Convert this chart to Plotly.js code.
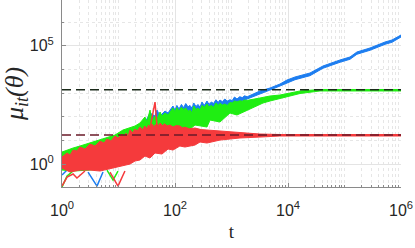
<!DOCTYPE html>
<html><head><meta charset="utf-8">
<script src="https://cdn.plot.ly/plotly-3.0.1.min.js"></script>
<style>html,body{margin:0;padding:0;background:#fff}#chart{width:415px;height:248px}</style>
</head><body><div id="chart"></div>
<script>
// ---- data (t, mu) ----
const redUpperT = [1,1.23,1.39,1.57,1.84,2.08,2.55,3.13,3.84,4.7,5.54,6.26,7.36,8.67,9.8,11.5,12.5,13.6,14.8,16.0,17.8,19.6,21.5,24.0,26.5,29.4,31.9,34,36.1,39.2,42,48.0,51,54.3,60,66.5,72,81.7,92.2,105,122,135,150,180,226,290,368,625,1413,3190,7210,1e6];
const redUpperMu = [1.98,2.92,2.4,3.91,3.54,5.23,4.31,7.0,5.77,9.38,7.72,11.4,9.38,15.3,12.6,18.5,13.5,20.0,15.3,27.4,21.0,30.0,24.8,36.6,28.0,40.0,30.1,45.0,33.2,49.1,38.0,52.0,40.4,54.1,42.0,50.0,40.4,44.5,36.6,42.0,40.4,34.0,36.0,31.0,33.2,28.5,27.4,24.8,20.4,18.5,17.7,17.7];
const redLowerT = [1e6,7210,3190,1413,625,368,277,226,150,122,92.2,75.2,58.9,44.3,36.1,29.4,24.0,19.6,16.0,11.5,8.67,6.26,4.7,3.13,2.08,1.39,1];
const redLowerMu = [15.3,15.3,13.8,12.6,10.3,7.72,8.51,6.35,5.23,5.77,3.91,4.31,2.65,2.92,1.79,2.18,1.48,1.34,1.0,0.823,0.678,0.557,0.506,0.557,0.557,0.459,0.678];
const redSpikeT = [36.1,44.3,48.0];
const redSpikeMu = [33.2,417,40.4];
const redLowT1 = [1,1.23,1.57,1.84,2.55];
const redLowMu1 = [0.117,0.282,0.378,0.256,0.506];
const redLowT2 = [7.07,9.8,13.0];
const redLowMu2 = [0.459,0.117,0.506];

const greenUpperT = [1,1.23,1.57,2.08,3.13,4.7,6.26,8.67,12.0,16.0,19.6,24.0,29.4,31.9,36.1,39.2,44.3,48.0,54.3,58.9,66.5,75.2,84,92,100,108,118,130,142,155,170,184,200,215,235,255,277,300,330,368,400,440,480,530,580,625,690,760,840,940,1030,1130,1250,1400,1550,1700,1900,2125,2400,2700,3190,4800,7210,10840,16300,36800,1e6];
const greenUpperMu = [3.22,3.91,4.75,5.77,7.72,10.3,12.6,16.8,27.4,33.2,40.4,54.1,96.9,59.6,191,72.4,107,79.8,158,107,143,118,170,233,160,240,174,250,200,233,170,191,150,283,200,230,190,300,250,344,260,300,250,378,300,370,310,344,300,400,380,460,420,470,450,507,490,520,560,590,617,748,825,1000,1220,1410,1410];
const greenLowerT = [1e6,36800,16300,10840,7210,4800,3610,2125,1250,940,625,416,368,226,184,122,92.2,66.5,36.1,24.0,16.0,11.5,6.26,3.13,1.57,1];
const greenLowerMu = [1220,1220,955,748,617,460,378,211,118,143,59.6,72.4,36.6,44.5,30.1,33.2,22.5,16.8,6.35,2.4,1.48,0.908,0.678,0.557,0.506,0.557];
const greenLowT1 = [1,1.23,1.57];
const greenLowMu1 = [0.107,0.311,0.506];
const greenLowT2 = [6.26,8.0,9.8];
const greenLowMu2 = [0.557,0.211,0.506];

const blueUpperT = [1,2.08,4.7,8.67,16.0,24.0,31.9,36.1,44.3,48.0,54.3,66.5,75.2,84,92,100,108,118,130,142,155,170,184,200,215,235,255,277,300,330,368,400,440,480,530,580,625,690,760,840,940,1030,1130,1250,1400,1550,1700,1900,2125,2400,2700,3190,4800,7210,9600,13300,24500,41600,83200,125000,166000,283000,521000,692000,1e6];
const blueUpperMu = [1.48,3.22,6.35,10.3,27.4,44.5,79.8,143,107,191,107,174,143,200,283,190,300,211,330,240,360,260,300,230,380,270,330,250,420,300,460,330,420,360,520,400,507,430,560,460,520,480,679,560,700,640,760,700,800,900,1000,1220,1630,2400,3550,4750,7020,13900,24900,33300,54200,80000,143000,174000,283000];
const blueLowerT = [1e6,692000,521000,283000,166000,125000,83200,41600,24500,13300,9600,7210,4800,3190,2125,1250,625,368,226,150,92.2,54.3,36.1,16.0,4.7,1];
const blueLowerMu = [232000,139000,114000,64000,43400,26600,19900,11100,5400,3650,2730,1980,1340,910,617,378,257,174,143,107,87.9,44.5,27.4,10.3,1.48,0.678];
const blueLowT1 = [2.89,4.16,5.32];
const blueLowMu1 = [0.459,0.117,0.459];
const blueLowT2 = [1,1.23];
const blueLowMu2 = [0.343,0.557];

const upperRefMu = 1380;
const lowerRefMu = 16.8;
const tRange = [1, 1e6];

const xTickVals = [1,100,1e4,1e6];
const xTickText = ['10<sup>0</sup>','10<sup>2</sup>','10<sup>4</sup>','10<sup>6</sup>'];
const yTickVals = [1,1e5];
const yTickText = ['10<sup>0</sup>','10<sup>5</sup>'];
const yMinorVals = [0.1,10,100,1e3,1e4,1e6,1e7];

const BLUE = '#1c7df0', GREEN = '#1fee12', RED = '#f53a3c';

function band(tu, mu, tl, ml, color) {
  return {x: tu.concat(tl), y: mu.concat(ml), type:'scatter', mode:'lines', fill:'toself',
    fillcolor: color, line:{color: color, width:1}, hoverinfo:'skip', showlegend:false};
}
function line(t, m, color, w, dash) {
  return {x: t, y: m, type:'scatter', mode:'lines', line:{color: color, width: w||1.5, dash: dash||'solid'}, showlegend:false};
}
const xMinor = [];
for (let d = 1; d < 1e6; d *= 10) for (let k = 1; k <= 9; k++) if (!(k === 1 && xTickVals.indexOf(d) >= 0)) xMinor.push(k*d);

const traces = [
  band(blueUpperT, blueUpperMu, blueLowerT, blueLowerMu, BLUE),
  line(blueLowT1, blueLowMu1, BLUE), line(blueLowT2, blueLowMu2, BLUE),
  band(greenUpperT, greenUpperMu, greenLowerT, greenLowerMu, GREEN),
  line(greenLowT1, greenLowMu1, GREEN), line(greenLowT2, greenLowMu2, GREEN),
  band(redUpperT, redUpperMu, redLowerT, redLowerMu, RED),
  line(redSpikeT, redSpikeMu, RED), line(redLowT1, redLowMu1, RED), line(redLowT2, redLowMu2, RED),
  line(tRange, [upperRefMu, upperRefMu], '#1a2a1a', 1.5, '9px,5px'),
  line(tRange, [lowerRefMu, lowerRefMu], '#6a1a28', 1.5, '9px,5px')
];

const layout = {
  width: 415, height: 248,
  margin: {l: 62, r: 14, t: 0, b: 61},
  paper_bgcolor: '#fff', plot_bgcolor: '#fff',
  showlegend: false,
  font: {family: 'Liberation Sans, Arial, sans-serif', color: '#262626', size: 16},
  xaxis: {
    type: 'log', range: [0, 6], showline: true, linecolor: '#8a8a8a', linewidth: 1,
    tickmode: 'array', tickvals: xTickVals, ticktext: xTickText,
    ticks: 'inside', ticklen: 4, tickcolor: '#8a8a8a',
    showgrid: true, gridcolor: '#e4e4e4', gridwidth: 1, zeroline: false,
    ticklabelstandoff: 9,
    minor: {tickmode: 'array', tickvals: xMinor, ticks: 'inside', ticklen: 2, tickcolor: '#8a8a8a',
      showgrid: true, gridcolor: '#e6e6e6', griddash: 'dot'},
    title: {text: 't', font: {family: 'Liberation Serif, serif', size: 19, color: '#262626'}, standoff: 6}
  },
  yaxis: {
    type: 'log', range: [-0.97, 6.93], showline: true, linecolor: '#8a8a8a', linewidth: 1,
    tickmode: 'array', tickvals: yTickVals, ticktext: yTickText,
    ticks: 'inside', ticklen: 4, tickcolor: '#8a8a8a',
    showgrid: true, gridcolor: '#e4e4e4', zeroline: false,
    ticklabelstandoff: 4,
    minor: {tickmode: 'array', tickvals: yMinorVals, ticks: 'inside', ticklen: 2, tickcolor: '#8a8a8a',
      showgrid: true, gridcolor: '#e6e6e6', griddash: 'dot'},
    title: {text: 'μ<sub>it</sub>(θ)', font: {family: 'Liberation Serif, serif', size: 26, color: '#262626', style: 'italic'}, standoff: 2}
  }
};
Plotly.newPlot('chart', traces, layout, {staticPlot: true, displayModeBar: false});
</script></body></html>
